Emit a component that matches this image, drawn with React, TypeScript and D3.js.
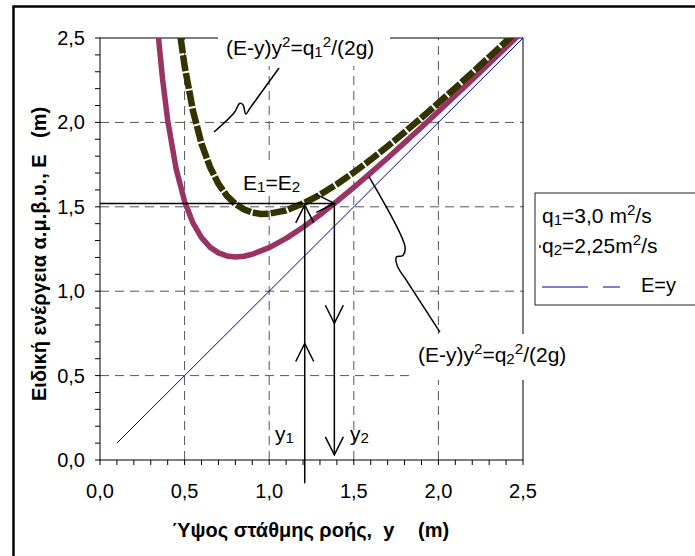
import React from 'react';
import * as d3 from 'd3';

// ---- data ----
const depthQ1 = [0.45, 0.46, 0.47, 0.5, 0.55, 0.6, 0.65, 0.7, 0.75, 0.8, 0.85, 0.9, 0.95, 1.0, 1.1, 1.2, 1.3, 1.4, 1.5, 1.6, 1.7, 1.8, 1.9, 2.0, 2.1, 2.2, 2.3, 2.4, 2.45];
const energyQ1 = [2.715, 2.628, 2.546, 2.335, 2.066, 1.874, 1.736, 1.636, 1.565, 1.517, 1.485, 1.466, 1.458, 1.459, 1.479, 1.519, 1.571, 1.634, 1.704, 1.779, 1.859, 1.942, 2.027, 2.115, 2.204, 2.295, 2.387, 2.48, 2.526];
const depthQ2 = [0.33, 0.35, 0.37, 0.4, 0.45, 0.5, 0.55, 0.6, 0.65, 0.7, 0.75, 0.8, 0.85, 0.9, 1.0, 1.1, 1.2, 1.3, 1.4, 1.5, 1.6, 1.7, 1.8, 1.9, 2.0, 2.1, 2.2, 2.3, 2.4, 2.5];
const energyQ2 = [2.699, 2.456, 2.255, 2.013, 1.724, 1.532, 1.403, 1.317, 1.261, 1.227, 1.209, 1.203, 1.207, 1.219, 1.258, 1.313, 1.379, 1.453, 1.532, 1.615, 1.701, 1.789, 1.88, 1.971, 2.065, 2.159, 2.253, 2.349, 2.445, 2.541];
const depthEqLine = [0.1, 2.5];
const energyEqLine = [0.1, 2.5];

const xTickValues = [0, 0.5, 1.0, 1.5, 2.0, 2.5];
const xTickLabels = ['0,0', '0,5', '1,0', '1,5', '2,0', '2,5'];
const yTickValues = [0, 0.5, 1.0, 1.5, 2.0, 2.5];
const yTickLabels = ['0,0', '0,5', '1,0', '1,5', '2,0', '2,5'];
const gridValues = [0.5, 1.0, 1.5, 2.0];

const depth1 = 1.21;
const depth2 = 1.385;
const equalEnergy = 1.52;

// callout polylines (depth, energy)
const callout1 = [[1.058, 2.322], [0.887, 2.085], [0.862, 2.05], [0.845, 2.105], [0.825, 2.112], [0.795, 2.06], [0.674, 1.943]];
const callout2 = [[1.59, 1.677], [1.803, 1.262], [1.79, 1.212], [1.752, 1.203], [1.757, 1.15], [1.814, 1.06], [2.009, 0.758]];

const FONT = 'Liberation Sans, Arial, Helvetica, sans-serif';

type Seg = { t: string; s?: 'sub' | 'sup' };

function Rich({ x, y, segs, size, anchor = 'start' }: { x: number; y: number; segs: Seg[]; size: number; anchor?: string }) {
  let cur = 0;
  return (
    <text x={x} y={y} fontSize={size} textAnchor={anchor} fontFamily={FONT} fill="#000">
      {segs.map((sg, i) => {
        const target = sg.s === 'sup' ? -size * 0.36 : sg.s === 'sub' ? size * 0.1 : 0;
        const dy = target - cur;
        cur = target;
        return (
          <tspan key={i} dy={dy} fontSize={sg.s ? size * 0.72 : size}>
            {sg.t}
          </tspan>
        );
      })}
    </text>
  );
}

export default function App() {
  const W = 695, H = 556;
  const x = d3.scaleLinear().domain([0, 2.5]).range([100, 523]);
  const y = d3.scaleLinear().domain([0, 2.5]).range([460, 38]);

  const line = d3.line<[number, number]>().x(d => x(d[0])).y(d => y(d[1]));
  const curve1 = line(depthQ1.map((d, i) => [d, energyQ1[i]] as [number, number]))!;
  const curve2 = line(depthQ2.map((d, i) => [d, energyQ2[i]] as [number, number]))!;
  const eqLine = line(depthEqLine.map((d, i) => [d, energyEqLine[i]] as [number, number]))!;
  const smooth = d3.line<number[]>().x(d => x(d[0])).y(d => y(d[1])).curve(d3.curveCatmullRom);

  const minor = x.ticks(25);

  const chevron = (px: number, py: number, dir: 'up' | 'down' | 'right', len = 18, half = 9) => {
    if (dir === 'up') return `M${px - half},${py + len}L${px},${py}L${px + half},${py + len}`;
    if (dir === 'down') return `M${px - half},${py - len}L${px},${py}L${px + half},${py - len}`;
    return `M${px - len},${py - half}L${px},${py}L${px - len},${py + half}`;
  };

  const x1 = x(depth1), x2 = x(depth2), yE = y(equalEnergy);

  return (
    <svg width={W} height={H} style={{ position: 'absolute', left: 0, top: 0, background: '#fff' }} fontFamily={FONT}>
      <defs>
        <clipPath id="plotClip">
          <rect x={100} y={38} width={423} height={422} />
        </clipPath>
      </defs>
      <rect x={0} y={0} width={W} height={H} fill="#fff" />
      {/* outer frame */}
      <rect x={13.5} y={6.5} width={720} height={600} fill="none" stroke="#000" strokeWidth={2.5} />

      {/* gridlines */}
      {gridValues.map(v => (
        <line key={'gx' + v} x1={x(v)} x2={x(v)} y1={y(0)} y2={y(2.5)} stroke="#555" strokeWidth={1} strokeDasharray="9,6" />
      ))}
      {gridValues.map(v => (
        <line key={'gy' + v} x1={x(0)} x2={x(2.5)} y1={y(v)} y2={y(v)} stroke="#555" strokeWidth={1} strokeDasharray="9,6" />
      ))}

      {/* plot border */}
      <rect x={100} y={38} width={423} height={422} fill="none" stroke="#000" strokeWidth={1} />

      {/* ticks */}
      {minor.map(v => (
        <line key={'tx' + v} x1={x(v)} x2={x(v)} y1={460} y2={465} stroke="#000" strokeWidth={1} />
      ))}
      {minor.map(v => (
        <line key={'ty' + v} x1={95} x2={100} y1={y(v)} y2={y(v)} stroke="#000" strokeWidth={1} />
      ))}
      {xTickValues.map((v, i) => (
        <text key={'lx' + v} x={x(v)} y={498} fontSize={20} textAnchor="middle">{xTickLabels[i]}</text>
      ))}
      {yTickValues.map((v, i) => (
        <text key={'ly' + v} x={85} y={y(v) + 7} fontSize={20} textAnchor="end">{yTickLabels[i]}</text>
      ))}

      {/* curves */}
      <g clipPath="url(#plotClip)">
        <path d={eqLine} fill="none" stroke="#000099" strokeWidth={1} />
        <path d={curve2} fill="none" stroke="#993366" strokeWidth={5.5} strokeLinejoin="round" />
        <path d={curve1} fill="none" stroke="#333300" strokeWidth={6.5} strokeDasharray="16,2" />
      </g>

      {/* construction lines */}
      <line x1={x(0)} x2={x2} y1={yE} y2={yE} stroke="#000" strokeWidth={1.5} />
      <path d={chevron(x2, yE, 'right')} fill="none" stroke="#000" strokeWidth={1.5} />
      <line x1={x1} x2={x1} y1={yE} y2={y(-0.138)} stroke="#000" strokeWidth={1.5} />
      <path d={chevron(x1, yE + 1.5, 'up')} fill="none" stroke="#000" strokeWidth={1.5} />
      <path d={chevron(x1, y(0.69), 'up')} fill="none" stroke="#000" strokeWidth={1.5} />
      <line x1={x2} x2={x2} y1={yE} y2={y(0.03)} stroke="#000" strokeWidth={1.5} />
      <path d={chevron(x2, y(0.81), 'down')} fill="none" stroke="#000" strokeWidth={1.5} />
      <path d={chevron(x2, y(0.03), 'down')} fill="none" stroke="#000" strokeWidth={1.5} />

      {/* callouts */}
      <path d={smooth(callout1)!} fill="none" stroke="#000" strokeWidth={1.5} />
      <path d={smooth(callout2)!} fill="none" stroke="#000" strokeWidth={1.5} />

      {/* labels with white boxes */}
      <rect x={218} y={27} width={172} height={39} fill="#fff" />
      <Rich x={226} y={55} size={21} segs={[{ t: '(E-y)y' }, { t: '2', s: 'sup' }, { t: '=q' }, { t: '1', s: 'sub' }, { t: '2', s: 'sup' }, { t: '/(2g)' }]} />

      <rect x={239} y={164} width={63} height={32} fill="#fff" />
      <Rich x={243} y={190} size={21} segs={[{ t: 'E' }, { t: '1', s: 'sub' }, { t: '=E' }, { t: '2', s: 'sub' }]} />

      <rect x={411} y={334} width={170} height={46} fill="#fff" />
      <Rich x={418} y={362} size={21} segs={[{ t: '(E-y)y' }, { t: '2', s: 'sup' }, { t: '=q' }, { t: '2', s: 'sub' }, { t: '2', s: 'sup' }, { t: '/(2g)' }]} />

      <Rich x={294} y={441} size={21} anchor="end" segs={[{ t: 'y' }, { t: '1', s: 'sub' }]} />
      <Rich x={350} y={441} size={21} segs={[{ t: 'y' }, { t: '2', s: 'sub' }]} />

      {/* legend */}
      <rect x={535} y={193} width={200} height={112} fill="#fff" stroke="#222" strokeWidth={1} />
      <Rich x={542} y={223} size={21} segs={[{ t: 'q' }, { t: '1', s: 'sub' }, { t: '=3,0 m' }, { t: '2', s: 'sup' }, { t: '/s' }]} />
      <rect x={539} y={245} width={2} height={3} fill="#993366" />
      <Rich x={542} y={253} size={21} segs={[{ t: 'q' }, { t: '2', s: 'sub' }, { t: '=2,25m' }, { t: '2', s: 'sup' }, { t: '/s' }]} />
      <line x1={542} x2={588} y1={287} y2={287} stroke="#000099" strokeWidth={1} />
      <line x1={603} x2={620} y1={287} y2={287} stroke="#000099" strokeWidth={1} />
      <text x={641} y={292} fontSize={20}>E=y</text>

      {/* axis titles */}
      <text x={172} y={537} fontSize={20} fontWeight="bold" style={{ whiteSpace: 'pre' }}>{'Ύψος στάθμης ροής,  y'}</text>
      <text x={418} y={537} fontSize={20} fontWeight="bold">(m)</text>
      <text transform="translate(46,401) rotate(-90)" fontSize={20} fontWeight="bold">Ειδική ενέργεια α.μ.β.υ., E</text>
      <text transform="translate(46,138) rotate(-90)" fontSize={20} fontWeight="bold">(m)</text>
    </svg>
  );
}
